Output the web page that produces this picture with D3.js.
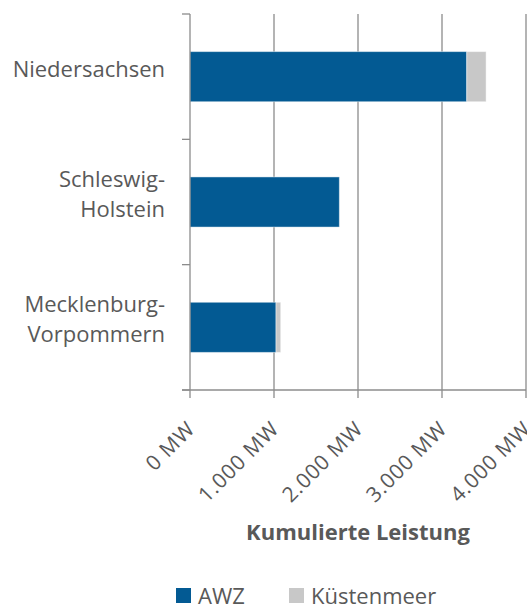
<!DOCTYPE html>
<html>
<head>
<meta charset="utf-8">
<script src="https://cdn.jsdelivr.net/npm/d3@7"></script>
<style>
  body { margin: 0; background: #fff; }
  text { font-family: "Open Sans", sans-serif; fill: #595959; }
</style>
</head>
<body>
<svg id="chart"></svg>
<script>
// data
const states = [["Niedersachsen"], ["Schleswig-", "Holstein"], ["Mecklenburg-", "Vorpommern"]];
const awz = [3295, 1778, 1024];
const kuestenmeer = [230, 0, 56];
const seriesNames = ["AWZ", "Küstenmeer"];
const xTicks = [0, 1000, 2000, 3000, 4000];

const width = 527, height = 608;
const colors = ["#035a93", "#c8c8c8"];
const gridColor = "#8c8c8c";

const svg = d3.select("#chart").attr("width", width).attr("height", height);

const x = d3.scaleLinear().domain([0, 4000]).range([190, 526]);
const keys = states.map(d => d.join(""));
const y = d3.scaleBand().domain(keys).range([14, 390]).paddingInner(0.6).paddingOuter(0.3);

const rows = keys.map((k, i) => ({ key: k, AWZ: awz[i], "Küstenmeer": kuestenmeer[i] }));
const stacked = d3.stack().keys(seriesNames)(rows);

// vertical grid lines
svg.append("g").selectAll("line")
  .data(xTicks.slice(1))
  .join("line")
    .attr("x1", d => x(d)).attr("x2", d => x(d))
    .attr("y1", 14).attr("y2", 398)
    .attr("stroke", gridColor).attr("stroke-width", 1.3);

// bars
svg.append("g").selectAll("g")
  .data(stacked)
  .join("g")
    .attr("fill", (d, i) => colors[i])
  .selectAll("rect")
  .data(d => d)
  .join("rect")
    .attr("x", d => x(d[0]))
    .attr("y", d => y(d.data.key))
    .attr("width", d => Math.max(0, x(d[1]) - x(d[0])))
    .attr("height", y.bandwidth())
    .attr("stroke", "#fff").attr("stroke-opacity", 0.45).attr("stroke-width", 1);

// y axis line and ticks (at band boundaries)
const bounds = [14].concat(keys.map(k => y(k) - y.step() * 0.3 + y.step()));
svg.append("line")
  .attr("x1", 190).attr("x2", 190).attr("y1", 14).attr("y2", 398)
  .attr("stroke", gridColor).attr("stroke-width", 1.3);
svg.append("g").selectAll("line")
  .data(bounds)
  .join("line")
    .attr("x1", 182).attr("x2", 190)
    .attr("y1", d => d).attr("y2", d => d)
    .attr("stroke", gridColor).attr("stroke-width", 1.3);

// x axis line and ticks
svg.append("line")
  .attr("x1", 182).attr("x2", 526).attr("y1", 390).attr("y2", 390)
  .attr("stroke", gridColor).attr("stroke-width", 1.3);

const fmt = d => d3.format(",")(d).replace(/,/g, ".") + " MW";
svg.append("g").selectAll("text")
  .data(xTicks)
  .join("text")
    .attr("transform", d => `translate(${x(d) + 1},${425}) rotate(-45)`)
    .attr("text-anchor", "end")
    .attr("dy", "0.35em")
    .style("font-size", "21px")
    .style("letter-spacing", "0.8px")
    .text(fmt);

// category labels
const labels = svg.append("g").selectAll("text")
  .data(states)
  .join("text")
    .attr("text-anchor", "end")
    .style("font-size", "22px")
    .attr("x", 165)
    .attr("y", (d, i) => y(keys[i]) + y.bandwidth() / 2 - (d.length - 1) * 15)
    .attr("dy", "0.35em");
labels.selectAll("tspan")
  .data(d => d)
  .join("tspan")
    .attr("x", 165)
    .attr("dy", (d, i) => i === 0 ? 0 : 30)
    .text(d => d);

// axis title
svg.append("text")
  .attr("x", 358).attr("y", 540)
  .attr("text-anchor", "middle")
  .style("font-size", "22px").style("font-weight", "bold")
  .text("Kumulierte Leistung");

// legend
const legendX = [176, 289];
const legend = svg.append("g").selectAll("g")
  .data(seriesNames)
  .join("g")
    .attr("transform", (d, i) => `translate(${legendX[i]},588)`);
legend.append("rect")
  .attr("width", 15).attr("height", 15)
  .attr("fill", (d, i) => colors[i]);
legend.append("text")
  .attr("x", 22).attr("y", 16)
  .style("font-size", "22px")
  .text(d => d);
</script>
</body>
</html>
